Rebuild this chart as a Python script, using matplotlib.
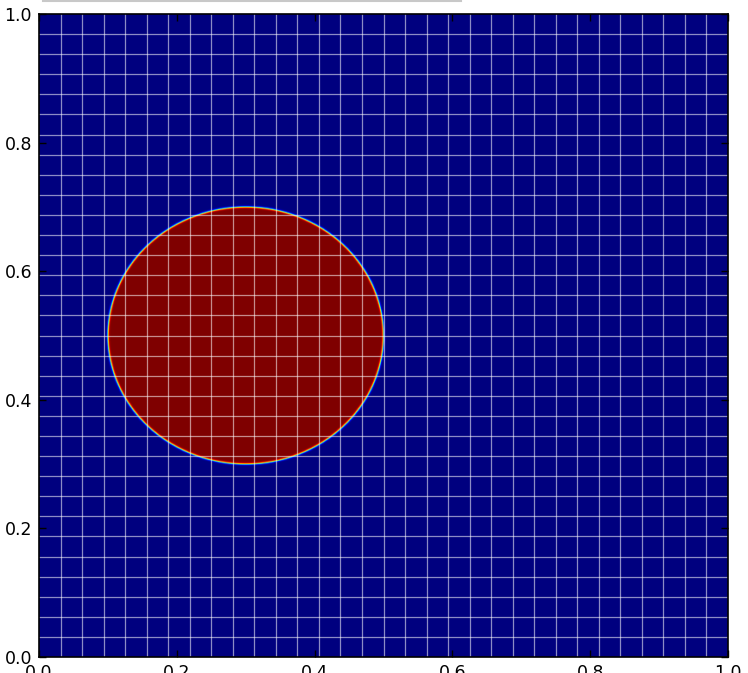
import numpy as np
import matplotlib
matplotlib.use("Agg")
import matplotlib.pyplot as plt
from matplotlib.lines import Line2D

# Data: circular phase field on unit square
center_x = 0.3
center_y = 0.5
radius = 0.2
interface_width = 0.0015
n_fine = 800          # field resolution
n_mesh = 32           # mesh cells per side
tick_values = [0.0, 0.2, 0.4, 0.6, 0.8, 1.0]
tick_labels = ["0.0", "0.2", "0.4", "0.6", "0.8", "1.0"]

xs = (np.arange(n_fine) + 0.5) / n_fine
X, Y = np.meshgrid(xs, xs)
dist = np.sqrt((X - center_x) ** 2 + (Y - center_y) ** 2) - radius
field = 0.5 * (1 - np.tanh(dist / interface_width))

fig = plt.figure(figsize=(7.48, 6.73), dpi=100)
ax = fig.add_axes([39 / 748, 16 / 673, 689 / 748, 643 / 673])
ax.imshow(field, extent=[0, 1, 0, 1], origin="lower", cmap="jet",
          vmin=0, vmax=1, aspect="auto", interpolation="bilinear")

mesh = np.linspace(0, 1, n_mesh + 1)
for v in mesh[1:-1]:
    ax.axvline(v, color="white", lw=0.9, alpha=0.55)
    ax.axhline(v, color="white", lw=0.9, alpha=0.55)

ax.set_xlim(0, 1)
ax.set_ylim(0, 1)
ax.set_xticks(tick_values)
ax.set_xticklabels(tick_labels)
ax.set_yticks(tick_values)
ax.set_yticklabels(tick_labels)
ax.tick_params(direction="in", top=True, right=True, length=5, width=1,
               labelsize=12.5, pad=5, colors="black")
for s in ax.spines.values():
    s.set_linewidth(1.2)
    s.set_color("black")

# remnant grey rule at the very top of the figure
fig.add_artist(Line2D([43 / 748, 461 / 748], [1 - 1 / 673, 1 - 1 / 673],
                      transform=fig.transFigure, color="#c8c8c8", lw=1.5))

fig.savefig("out.png", dpi=100)
